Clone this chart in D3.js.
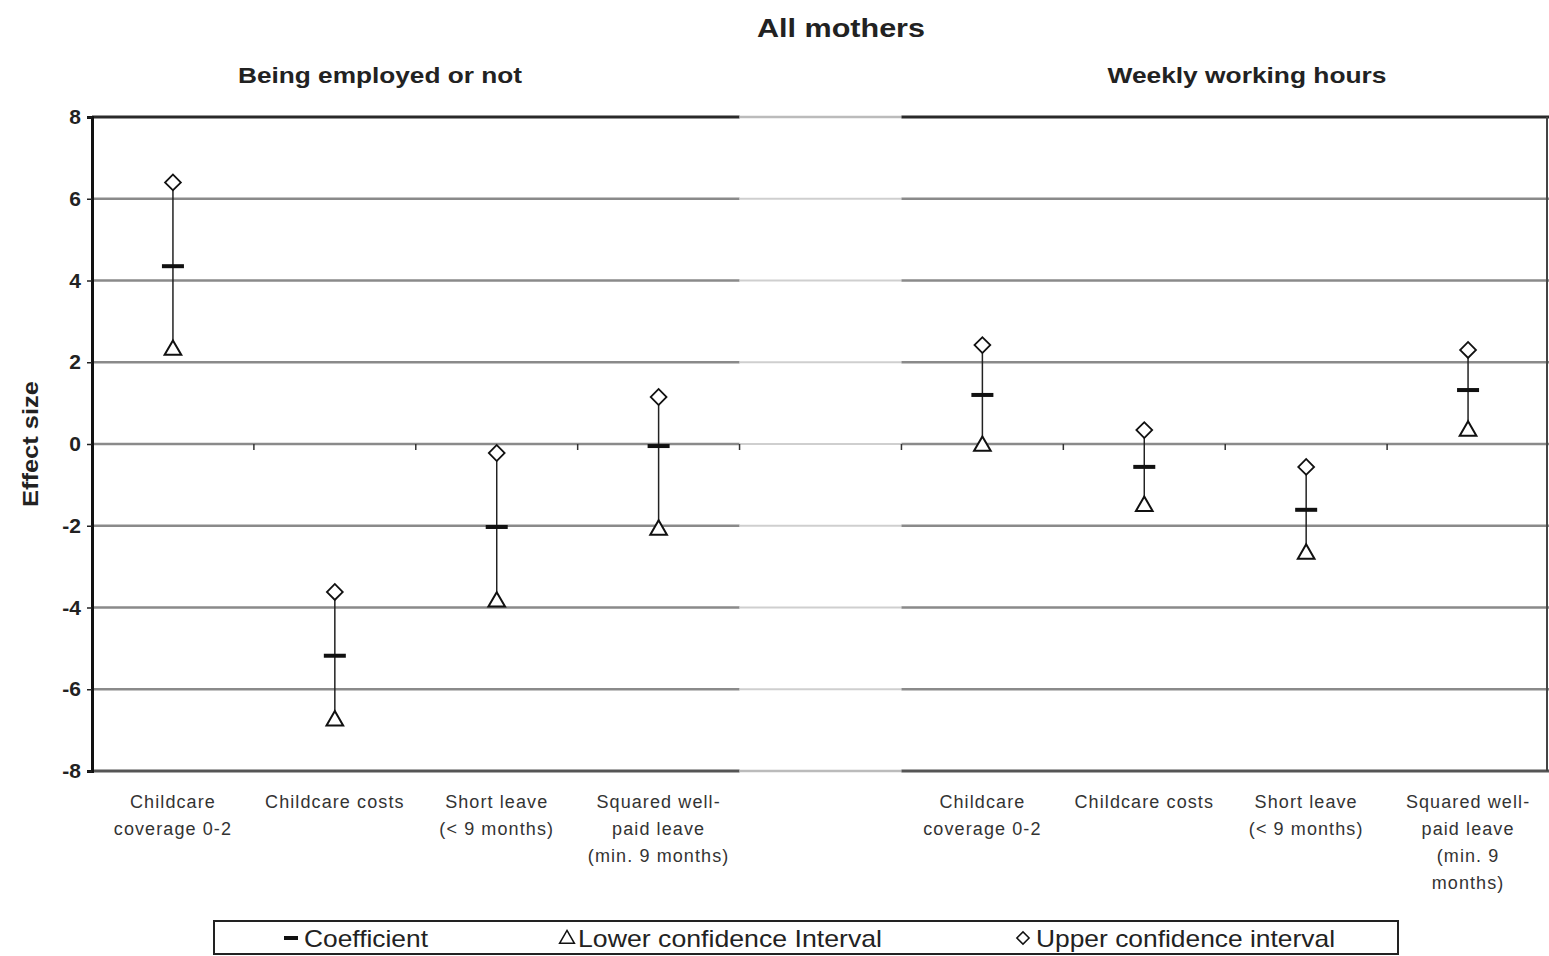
<!DOCTYPE html>
<html>
<head>
<meta charset="utf-8">
<script src="https://cdn.jsdelivr.net/npm/d3@7"></script>
<style>
  body { margin: 0; background: #fff; }
  svg { font-family: "Liberation Sans", Arial, sans-serif; }
</style>
</head>
<body>
<div id="chart"></div>
<script>
// Chart data
const categories = ["Childcare coverage 0-2", "Childcare costs", "Short leave (< 9 months)", "Squared well-paid leave (min. 9 months)"];
const panels = ["Being employed or not", "Weekly working hours"];
const labelsLeft = [["Childcare", "coverage 0-2"], ["Childcare costs"], ["Short leave", "(< 9 months)"], ["Squared well-", "paid leave", "(min. 9 months)"]];
const labelsRight = [["Childcare", "coverage 0-2"], ["Childcare costs"], ["Short leave", "(< 9 months)"], ["Squared well-", "paid leave", "(min. 9", "months)"]];
const coefLeft = [4.35, -5.18, -2.03, -0.05];
const lowerLeft = [2.3, -6.77, -3.86, -2.1];
const upperLeft = [6.4, -3.62, -0.22, 1.15];
const coefRight = [1.2, -0.56, -1.61, 1.32];
const lowerRight = [-0.05, -1.52, -2.69, 0.32];
const upperRight = [2.42, 0.34, -0.56, 2.3];
const yTicks = [-8, -6, -4, -2, 0, 2, 4, 6, 8];

const W = 1549, H = 956;
const margin = { top: 117, right: 0, bottom: 185, left: 92 };

const svg = d3.select("#chart").append("svg")
    .attr("width", W)
    .attr("height", H);

// slots: 4 left, one empty gap, 4 right
const slots = ["L0", "L1", "L2", "L3", "gap", "R0", "R1", "R2", "R3"];
const x = d3.scaleBand()
    .domain(slots)
    .range([margin.left, W - margin.right]);

const y = d3.scaleLinear()
    .domain([-8, 8])
    .range([H - margin.bottom, margin.top]);

const rows = [];
categories.forEach((c, i) => {
    rows.push({ slot: "L" + i, coef: coefLeft[i], lo: lowerLeft[i], hi: upperLeft[i], lines: labelsLeft[i] });
    rows.push({ slot: "R" + i, coef: coefRight[i], lo: lowerRight[i], hi: upperRight[i], lines: labelsRight[i] });
});

const gapX0 = x("gap"), gapX1 = x("gap") + x.bandwidth();

// gridlines (lighter in the gap between the two panels)
yTicks.forEach(t => {
    if (t === 8 || t === -8) return;
    svg.append("line").attr("x1", margin.left).attr("x2", gapX0)
        .attr("y1", y(t)).attr("y2", y(t))
        .attr("stroke", "#8a8a8a").attr("stroke-width", 2.5);
    svg.append("line").attr("x1", gapX0).attr("x2", gapX1)
        .attr("y1", y(t)).attr("y2", y(t))
        .attr("stroke", "#cfcfcf").attr("stroke-width", 2);
    svg.append("line").attr("x1", gapX1).attr("x2", W)
        .attr("y1", y(t)).attr("y2", y(t))
        .attr("stroke", "#8a8a8a").attr("stroke-width", 2.5);
});

// top and bottom frame
[8, -8].forEach(t => {
    const c = t === 8 ? "#2a2a2a" : "#555";
    svg.append("line").attr("x1", margin.left).attr("x2", gapX0)
        .attr("y1", y(t)).attr("y2", y(t))
        .attr("stroke", c).attr("stroke-width", 3);
    svg.append("line").attr("x1", gapX0).attr("x2", gapX1)
        .attr("y1", y(t)).attr("y2", y(t))
        .attr("stroke", "#bbb").attr("stroke-width", 2.5);
    svg.append("line").attr("x1", gapX1).attr("x2", W)
        .attr("y1", y(t)).attr("y2", y(t))
        .attr("stroke", c).attr("stroke-width", 3);
});

// right edge
svg.append("line").attr("x1", W - 2).attr("x2", W - 2)
    .attr("y1", y(8)).attr("y2", y(-8))
    .attr("stroke", "#444").attr("stroke-width", 2);

// small category ticks on the zero line
slots.slice(1).forEach(s => {
    svg.append("line").attr("x1", x(s)).attr("x2", x(s))
        .attr("y1", y(0)).attr("y2", y(0) + 6)
        .attr("stroke", "#333").attr("stroke-width", 1.5);
});

// y axis
const yAxis = d3.axisLeft(y).tickValues(yTicks).tickSize(5).tickPadding(6).tickFormat(d => String(d));
const gy = svg.append("g")
    .attr("transform", "translate(" + margin.left + ",0)")
    .call(yAxis);
gy.select(".domain").attr("stroke", "#111").attr("stroke-width", 3);
gy.selectAll(".tick line").attr("stroke", "#222").attr("stroke-width", 1.5);
gy.selectAll(".tick text")
    .style("font-size", "21px").style("font-weight", "bold").attr("fill", "#222");

// high-low lines
svg.selectAll(".hl")
    .data(rows)
    .join("line")
    .attr("class", "hl")
    .attr("x1", d => x(d.slot) + x.bandwidth() / 2)
    .attr("x2", d => x(d.slot) + x.bandwidth() / 2)
    .attr("y1", d => y(d.hi))
    .attr("y2", d => y(d.lo))
    .attr("stroke", "#222").attr("stroke-width", 1.5);

// coefficient dash
svg.selectAll(".coef")
    .data(rows)
    .join("rect")
    .attr("class", "coef")
    .attr("x", d => x(d.slot) + x.bandwidth() / 2 - 11)
    .attr("y", d => y(d.coef) - 2)
    .attr("width", 22)
    .attr("height", 4)
    .attr("fill", "#111");

// lower CI triangle
const tri = d3.symbol().type(d3.symbolTriangle).size(120);
svg.selectAll(".lo")
    .data(rows)
    .join("path")
    .attr("class", "lo")
    .attr("d", tri)
    .attr("transform", d => "translate(" + (x(d.slot) + x.bandwidth() / 2) + "," + y(d.lo) + ")")
    .attr("fill", "#fff").attr("stroke", "#111").attr("stroke-width", 2);

// upper CI diamond (rotated square)
const dia = d3.symbol().type(d3.symbolSquare).size(125);
svg.selectAll(".hi")
    .data(rows)
    .join("path")
    .attr("class", "hi")
    .attr("d", dia)
    .attr("transform", d => "translate(" + (x(d.slot) + x.bandwidth() / 2) + "," + y(d.hi) + ") rotate(45)")
    .attr("fill", "#fff").attr("stroke", "#111").attr("stroke-width", 1.8);

// category labels
rows.forEach(d => {
    const t = svg.append("text")
        .attr("x", x(d.slot) + x.bandwidth() / 2)
        .attr("y", y(-8) + 37)
        .attr("text-anchor", "middle")
        .style("font-size", "18px")
        .style("letter-spacing", "1.1px")
        .attr("fill", "#333");
    d.lines.forEach((l, i) => {
        t.append("tspan").attr("x", x(d.slot) + x.bandwidth() / 2)
            .attr("dy", i === 0 ? 0 : 27).text(l);
    });
});

// titles
svg.append("text")
    .attr("x", 841).attr("y", 37)
    .attr("text-anchor", "middle")
    .style("font-size", "26px").style("font-weight", "bold")
    .attr("textLength", 168).attr("lengthAdjust", "spacingAndGlyphs")
    .attr("fill", "#222")
    .text("All mothers");

svg.append("text")
    .attr("x", 380).attr("y", 83)
    .attr("text-anchor", "middle")
    .style("font-size", "22px").style("font-weight", "bold")
    .attr("textLength", 284).attr("lengthAdjust", "spacingAndGlyphs")
    .attr("fill", "#222")
    .text(panels[0]);

svg.append("text")
    .attr("x", 1247).attr("y", 83)
    .attr("text-anchor", "middle")
    .style("font-size", "22px").style("font-weight", "bold")
    .attr("textLength", 279).attr("lengthAdjust", "spacingAndGlyphs")
    .attr("fill", "#222")
    .text(panels[1]);

// y-axis title
svg.append("text")
    .attr("transform", "rotate(-90)")
    .attr("x", -y(0)).attr("y", 38)
    .attr("text-anchor", "middle")
    .style("font-size", "22px").style("font-weight", "bold")
    .attr("textLength", 126).attr("lengthAdjust", "spacingAndGlyphs")
    .attr("fill", "#222")
    .text("Effect size");

// legend
const lg = svg.append("g");
lg.append("rect")
    .attr("x", 214).attr("y", 921).attr("width", 1184).attr("height", 33)
    .attr("fill", "#fff").attr("stroke", "#222").attr("stroke-width", 2);
const legendItem = (tx, text, len) => lg.append("text").attr("x", tx).attr("y", 947)
    .style("font-size", "24px").attr("fill", "#222")
    .attr("textLength", len).attr("lengthAdjust", "spacingAndGlyphs")
    .text(text);
lg.append("rect").attr("x", 284).attr("y", 936).attr("width", 14).attr("height", 4).attr("fill", "#111");
legendItem(304, "Coefficient", 124);
lg.append("path").attr("d", d3.symbol().type(d3.symbolTriangle).size(95))
    .attr("transform", "translate(567,939)")
    .attr("fill", "#fff").attr("stroke", "#111").attr("stroke-width", 1.5);
legendItem(578, "Lower confidence Interval", 304);
lg.append("path").attr("d", d3.symbol().type(d3.symbolSquare).size(75))
    .attr("transform", "translate(1023,938) rotate(45)")
    .attr("fill", "#fff").attr("stroke", "#111").attr("stroke-width", 1.5);
legendItem(1036, "Upper confidence interval", 299);
</script>
</body>
</html>
